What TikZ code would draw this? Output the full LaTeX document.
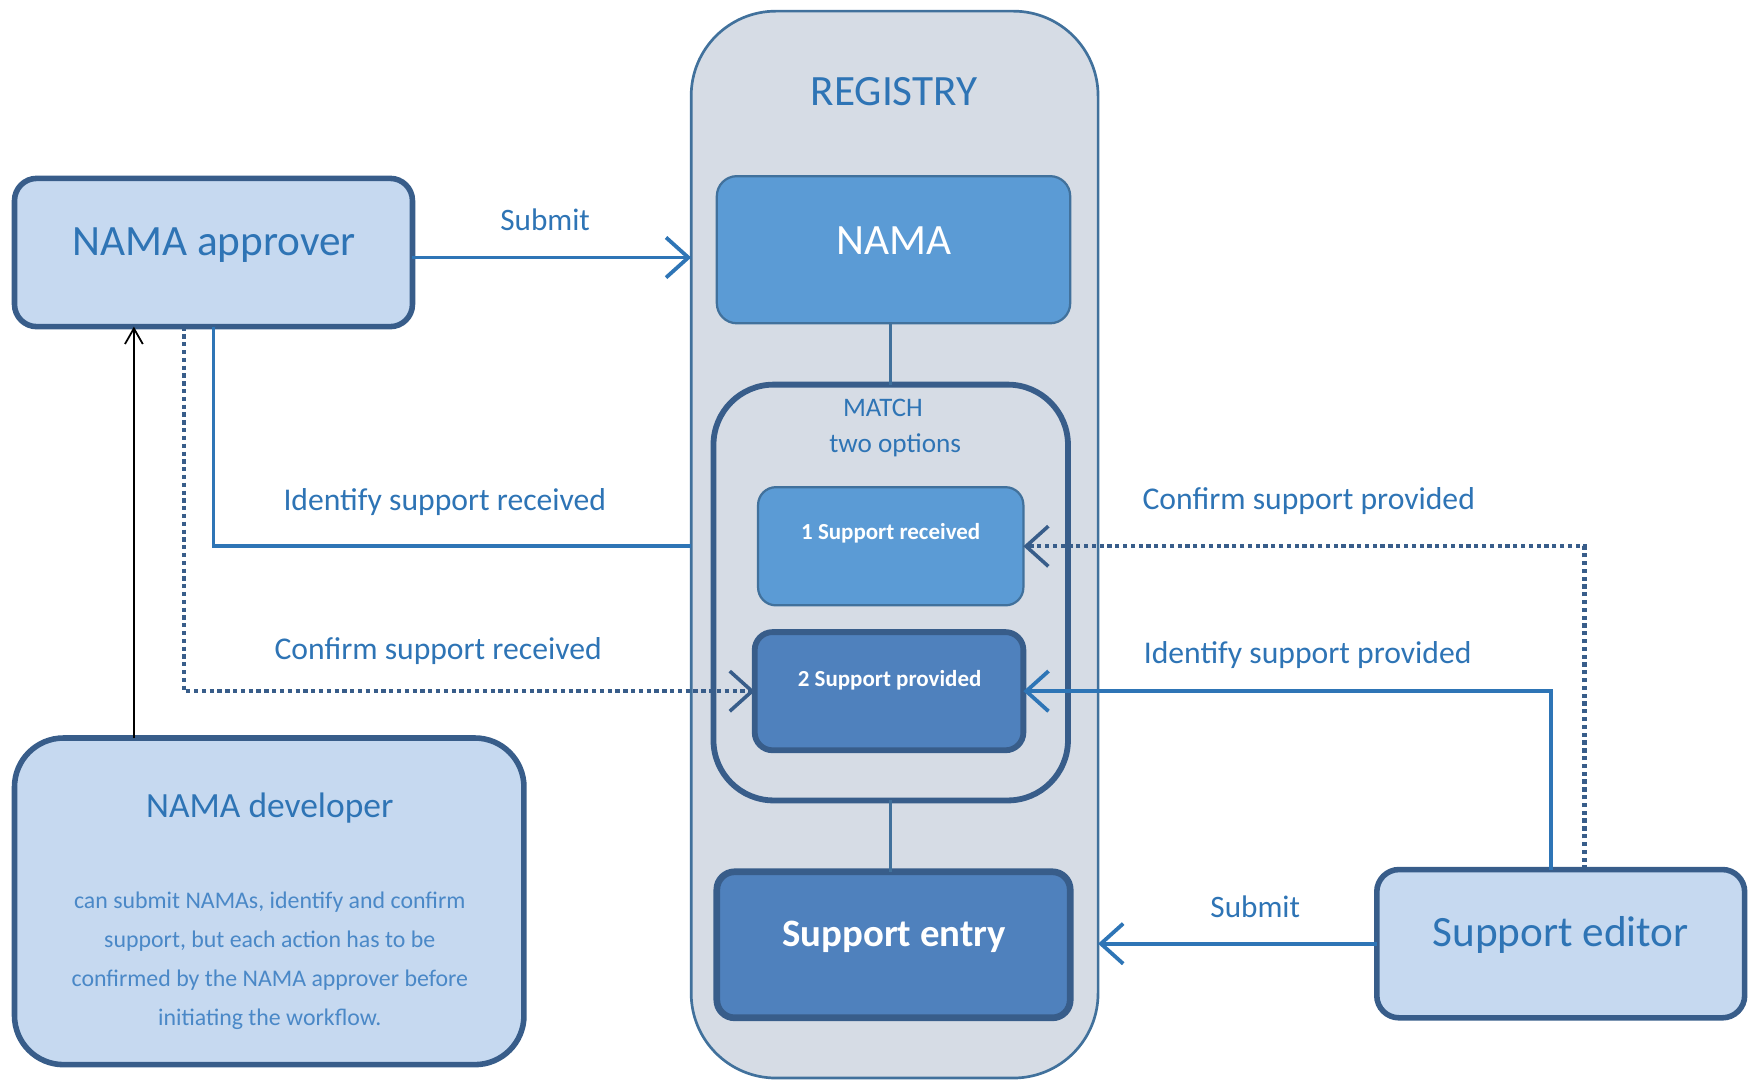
\documentclass[tikz,border=0pt]{standalone}
\usepackage{fontspec}
\setmainfont{Carlito}
\usetikzlibrary{arrows.meta,calc}
\definecolor{lightfill}{HTML}{C6D9F0}
\definecolor{regfill}{HTML}{D6DCE5}
\definecolor{midfill}{HTML}{5B9BD5}
\definecolor{darkfill}{HTML}{4F81BD}
\definecolor{darkline}{HTML}{385D8A}
\definecolor{midline}{HTML}{41719C}
\definecolor{lineblue}{HTML}{2E75B6}
\definecolor{textblue}{HTML}{2E74B5}
\definecolor{softtext}{HTML}{4A88C7}
\begin{document}
\begin{tikzpicture}[x=0.5pt,y=-0.5pt,
  box/.style={draw, inner sep=0pt, outer sep=0pt},
  actor/.style={box, fill=lightfill, draw=darkline, line width=2.5pt},
  lightinner/.style={box, fill=midfill, draw=midline, line width=1pt, rounded corners=8pt},
  darkinner/.style={box, fill=darkfill, draw=darkline, line width=2.6pt, rounded corners=8pt},
  txt/.style={inner sep=0pt, text=textblue},
  big/.style={txt, font=\fontsize{19.4}{22}\selectfont},
  lbl/.style={txt, anchor=base, font=\fontsize{14.2}{17}\selectfont},
  wtxt/.style={inner sep=0pt, text=white, anchor=base},
  conn/.style={line width=1.7pt, draw=lineblue},
  arr/.style={conn, -{Straight Barb[length=10pt,width=18pt]}},
  dotl/.style={line width=2pt, draw=darkline, dash pattern=on 1.9pt off 1.6pt},
  dotarr/.style={dotl, -{Straight Barb[length=10pt,width=18pt,line width=1.6pt]}},
  blk/.style={line width=0.8pt, draw=black, -{Straight Barb[length=7pt,width=8pt]}}
]
\useasboundingbox (0,0) rectangle (1568,970);

% registry container
\node[box, fill=regfill, draw=midline, line width=1.2pt, rounded corners=38pt,
      minimum width=182.5pt, minimum height=478.5pt] (registry) at (802.5,488.5) {};
\node[big, anchor=base] (regtitle) at (802,95) {REGISTRY};

% NAMA box
\node[lightinner, rounded corners=9pt, minimum width=158.5pt, minimum height=66pt] (nama) at (801.5,224) {};
\node[wtxt, font=\fontsize{19.4}{22}\selectfont] (namat) at (802,228) {NAMA};

% MATCH container
\node[box, draw=darkline, line width=2.6pt, rounded corners=27pt,
      minimum width=159pt, minimum height=186.5pt] (match) at (799,531.5) {};
\node[txt, anchor=base, font=\fontsize{12}{14}\selectfont] (matcht) at (792,374) {MATCH};
\node[txt, anchor=base, font=\fontsize{12.2}{14}\selectfont] (twoopt) at (803,406) {two options};

% option boxes
\node[lightinner, minimum width=119pt, minimum height=53pt] (box1) at (799,490) {};
\node[wtxt, font=\bfseries\fontsize{10.3}{12}\selectfont] (box1t) at (799,484) {1 Support received};
\node[darkinner, minimum width=120.5pt, minimum height=53pt] (box2) at (797.5,620) {};
\node[wtxt, font=\bfseries\fontsize{10.3}{12}\selectfont] (box2t) at (798,616) {2 Support provided};

% Support entry
\node[darkinner, line width=3pt, minimum width=158.5pt, minimum height=65.5pt] (entry) at (801.5,847.5) {};
\node[wtxt, font=\bfseries\fontsize{17.4}{20}\selectfont] (entryt) at (802,849) {Support entry};

% actors
\node[actor, rounded corners=10pt, minimum width=178.5pt, minimum height=66.5pt] (approver) at (191.5,226.5) {};
\node[big, anchor=base] (approvert) at (192,229) {NAMA approver};

\node[actor, rounded corners=22pt, minimum width=228.5pt, minimum height=146.5pt] (developer) at (241.5,808.5) {};
\node[txt, anchor=base, font=\fontsize{15.9}{18}\selectfont] (devtitle) at (242,733) {NAMA developer};
\node[txt, text=softtext, align=center, font=\fontsize{10.7}{17.5}\selectfont] (devbody) at (242,862)
  {can submit NAMAs, identify and confirm\\support, but each action has to be\\confirmed by the NAMA approver before\\initiating the workflow.};

\node[actor, rounded corners=10pt, minimum width=165pt, minimum height=66.5pt] (editor) at (1400,846.5) {};
\node[big, anchor=base] (editort) at (1400,849) {Support editor};

% internal links
\draw[line width=1.3pt, draw=midline] (match.north) -- (match.north |- nama.south);
\draw[line width=1.3pt, draw=midline] (match.south) -- (match.south |- entry.north);

% connectors
\coordinate (apE) at ([yshift=-2.25pt]approver.east);
\coordinate (apA) at ($(approver.south west)!0.30!(approver.south east)$);
\coordinate (apB) at ($(approver.south west)!0.426!(approver.south east)$);
\coordinate (edA) at ($(editor.north west)!0.473!(editor.north east)$);
\coordinate (edB) at ($(editor.north west)!0.564!(editor.north east)$);

\draw[arr] (apE) -- (apE -| registry.west);
\node[lbl, font=\fontsize{14}{17}\selectfont] (sub1) at (489,207) {Submit};

\draw[blk] (apA |- developer.north) -- (apA);

\draw[conn] (approver.south) |- (registry.west |- box1.west);
\node[lbl] (isr) at (399,458) {Identify support received};

\draw[dotarr] (apB) |- (box2.west);
\node[lbl] (csr) at (393,592) {Confirm support received};

\draw[dotarr] (edB) |- (box1.east);
\node[lbl] (csp) at (1174,457) {Confirm support provided};

\draw[arr] (edA) |- (box2.east);
\node[lbl] (isp) at (1173,595) {Identify support provided};

\draw[arr] (editor.west) -- (registry.east |- editor.west);
\node[lbl, font=\fontsize{14}{17}\selectfont] (sub2) at (1126,823) {Submit};
\end{tikzpicture}
\end{document}
